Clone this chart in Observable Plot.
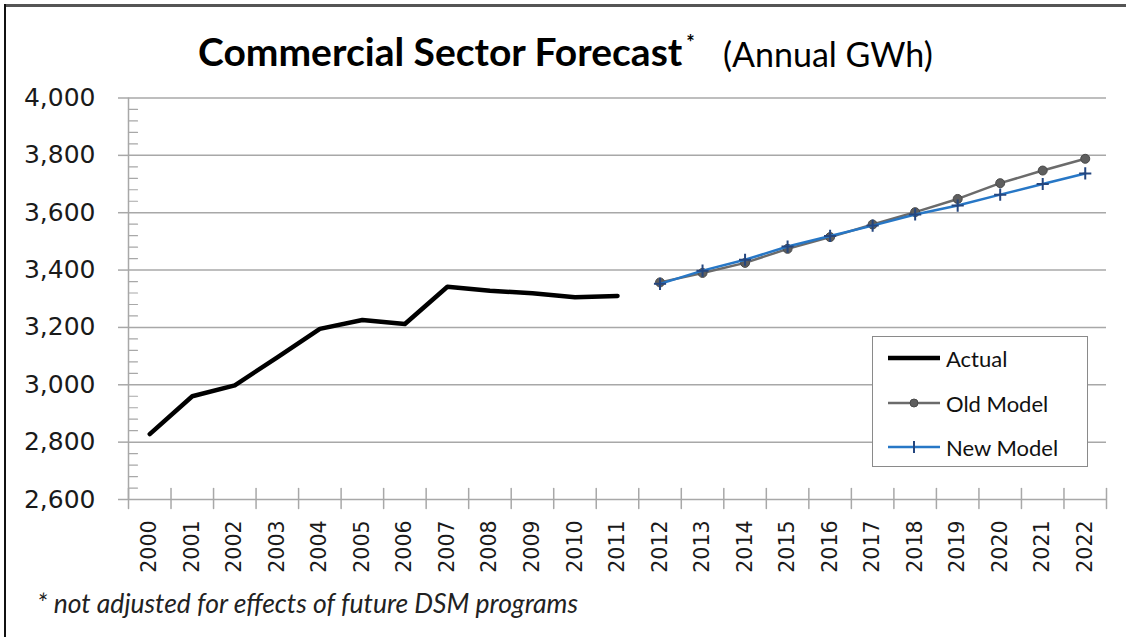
<!DOCTYPE html>
<html>
<head>
<meta charset="utf-8">
<script src="https://cdn.jsdelivr.net/npm/d3@7"></script>
<script src="https://cdn.jsdelivr.net/npm/@observablehq/plot@0.6"></script>
<style>
  html, body { margin: 0; padding: 0; background: #fff; }
  #wrap { position: relative; width: 1126px; height: 637px; overflow: hidden; background: #fff; }
  #borderTop { position: absolute; left: 4px; top: 4px; width: 1122px; height: 0; border-top: 3px solid #555; }
  #borderLeft { position: absolute; left: 4px; top: 4px; width: 0; height: 633px; border-left: 2px solid #111; }
  .ttl { position: absolute; white-space: nowrap; line-height: 1; font-family: Lato, "Open Sans", sans-serif; color: #000; }
  #t1 { left: 198px; top: 32px; font-size: 39px; font-weight: 700; }
  #t1 sup { font-size: 20px; font-weight: 700; position: relative; top: -2px; margin-left: 4px; }
  #t2 { left: 723px; top: 37px; font-size: 34px; font-weight: 400; }
  #chart { position: absolute; left: 0; top: 85px; }
  #chart svg text { font-family: "DejaVu Sans", sans-serif; }
  #legend { position: absolute; left: 872px; top: 336px; width: 214px; height: 129px; border: 1.5px solid #8a8a8a; background: #fff; box-sizing: content-box; }
  .item { position: absolute; left: 15px; height: 30px; display: flex; align-items: center; font-family: Lato, "Open Sans", sans-serif; font-size: 22px; color: #111; white-space: nowrap; }
  .item svg { margin-right: 6px; }
  #foot { position: absolute; left: 37px; top: 590px; font-family: Lato, "Open Sans", sans-serif; font-style: italic; font-size: 26.5px; line-height: 1; color: #222; white-space: nowrap; }
</style>
</head>
<body>
<div id="wrap">
  <div id="borderTop"></div>
  <div id="borderLeft"></div>
  <div class="ttl" id="t1">Commercial Sector Forecast<sup>*</sup></div>
  <div class="ttl" id="t2">(Annual GWh)</div>
  <div id="chart"></div>
  <div id="legend"></div>
  <div id="foot">* not adjusted for effects of future DSM programs</div>
</div>
<script>
// ---- Data ----
const years = [2000, 2001, 2002, 2003, 2004, 2005, 2006, 2007, 2008, 2009, 2010, 2011,
               2012, 2013, 2014, 2015, 2016, 2017, 2018, 2019, 2020, 2021, 2022];
const actualYears = [2000, 2001, 2002, 2003, 2004, 2005, 2006, 2007, 2008, 2009, 2010, 2011];
const actualValues = [2828, 2960, 2998, 3096, 3195, 3226, 3212, 3342, 3328, 3319, 3305, 3310];
const forecastYears = [2012, 2013, 2014, 2015, 2016, 2017, 2018, 2019, 2020, 2021, 2022];
const oldModelValues = [3357, 3390, 3425, 3474, 3515, 3559, 3602, 3648, 3703, 3747, 3788];
const newModelValues = [3352, 3398, 3436, 3482, 3519, 3555, 3594, 3625, 3663, 3700, 3737];
const yTicks = [2600, 2800, 3000, 3200, 3400, 3600, 3800, 4000];
const yMinorTicks = [2640, 2680, 2720, 2760, 2840, 2880, 2920, 2960, 3040, 3080, 3120, 3160,
                     3240, 3280, 3320, 3360, 3440, 3480, 3520, 3560, 3640, 3680, 3720, 3760,
                     3840, 3880, 3920, 3960];
const seriesNames = ["Actual", "Old Model", "New Model"];

// ---- Tables built from arrays ----
const actual = actualYears.map((y, i) => ({year: y, value: actualValues[i]}));
const oldModel = forecastYears.map((y, i) => ({year: y, value: oldModelValues[i]}));
const newModel = forecastYears.map((y, i) => ({year: y, value: newModelValues[i]}));
const boundaries = years.map(y => y - 0.5).concat([years[years.length - 1] + 0.5]);

const gridColor = "#a8a8a8";
const colActual = "#000000";
const colOld = "#6b6b6b";
const colOldDot = "#5e5e5e";
const colNew = "#2777c6";
const colNewMark = "#24467f";
const tickFont = "DejaVu Sans";

const hLine = {draw(c, l) { c.moveTo(0, 0); c.lineTo(l, 0); }};
const vCross = {draw(c, l) { c.moveTo(0, -11); c.lineTo(0, l - 11); }};

const chart = Plot.plot({
  width: 1126,
  height: 500,
  marginLeft: 128,
  marginRight: 20,
  marginTop: 12.5,
  marginBottom: 86,
  x: {domain: [boundaries[0], boundaries[boundaries.length - 1]], axis: null},
  y: {domain: [yTicks[0], yTicks[yTicks.length - 1]], axis: null},
  style: {fontFamily: tickFont, background: "transparent", overflow: "visible", color: "#1a1a1a"},
  marks: [
    Plot.ruleY(yTicks, {stroke: gridColor, strokeWidth: 1.5}),
    Plot.axisY(yTicks, {tickSize: 10, stroke: gridColor, strokeWidth: 1.5, tickPadding: 23,
      tickFormat: d3.format(","), fontSize: 25, fontFamily: tickFont, fill: "#1a1a1a", label: null}),
    Plot.vector(yMinorTicks, {y: d => d, frameAnchor: "left", length: 9, anchor: "start",
      shape: hLine, stroke: gridColor, strokeWidth: 1.2}),
    Plot.ruleX([boundaries[0]], {stroke: gridColor, strokeWidth: 1.5}),
    Plot.vector(boundaries, {x: d => d, frameAnchor: "bottom", length: 20, anchor: "start",
      shape: vCross, stroke: gridColor, strokeWidth: 1.5}),
    Plot.axisX(years, {tickSize: 0, tickRotate: -90, tickPadding: 21, fontSize: 20.5, fontFamily: tickFont,
      fill: "#1a1a1a", tickFormat: d => String(d), label: null}),
    Plot.line(actual, {x: "year", y: "value", stroke: colActual, strokeWidth: 4.5,
      strokeLinejoin: "round", strokeLinecap: "round"}),
    Plot.line(oldModel, {x: "year", y: "value", stroke: colOld, strokeWidth: 2.5}),
    Plot.dot(oldModel, {x: "year", y: "value", r: 4.5, fill: colOldDot, stroke: "#4a4a4a", strokeWidth: 1}),
    Plot.line(newModel, {x: "year", y: "value", stroke: colNew, strokeWidth: 2.5}),
    Plot.dot(newModel, {x: "year", y: "value", symbol: "plus", r: 4, stroke: colNewMark, strokeWidth: 2})
  ]
});
document.getElementById("chart").appendChild(chart);

// ---- Legend ----
const legend = document.getElementById("legend");
const legendDefs = [
  {name: seriesNames[0], top: 6, svg: `<svg width="52" height="20"><line x1="0" y1="10" x2="52" y2="10" stroke="${colActual}" stroke-width="4.5"/></svg>`},
  {name: seriesNames[1], top: 51, svg: `<svg width="52" height="20"><line x1="0" y1="10" x2="52" y2="10" stroke="${colOld}" stroke-width="2.5"/><circle cx="26" cy="10" r="4" fill="${colOldDot}" stroke="#4a4a4a"/></svg>`},
  {name: seriesNames[2], top: 95, svg: `<svg width="52" height="20"><line x1="0" y1="10" x2="52" y2="10" stroke="${colNew}" stroke-width="2.5"/><line x1="26" y1="4" x2="26" y2="16" stroke="${colNewMark}" stroke-width="2"/></svg>`}
];
for (const d of legendDefs) {
  const div = document.createElement("div");
  div.className = "item";
  div.style.top = d.top + "px";
  div.innerHTML = d.svg + `<span>${d.name}</span>`;
  legend.appendChild(div);
}
</script>
</body>
</html>
